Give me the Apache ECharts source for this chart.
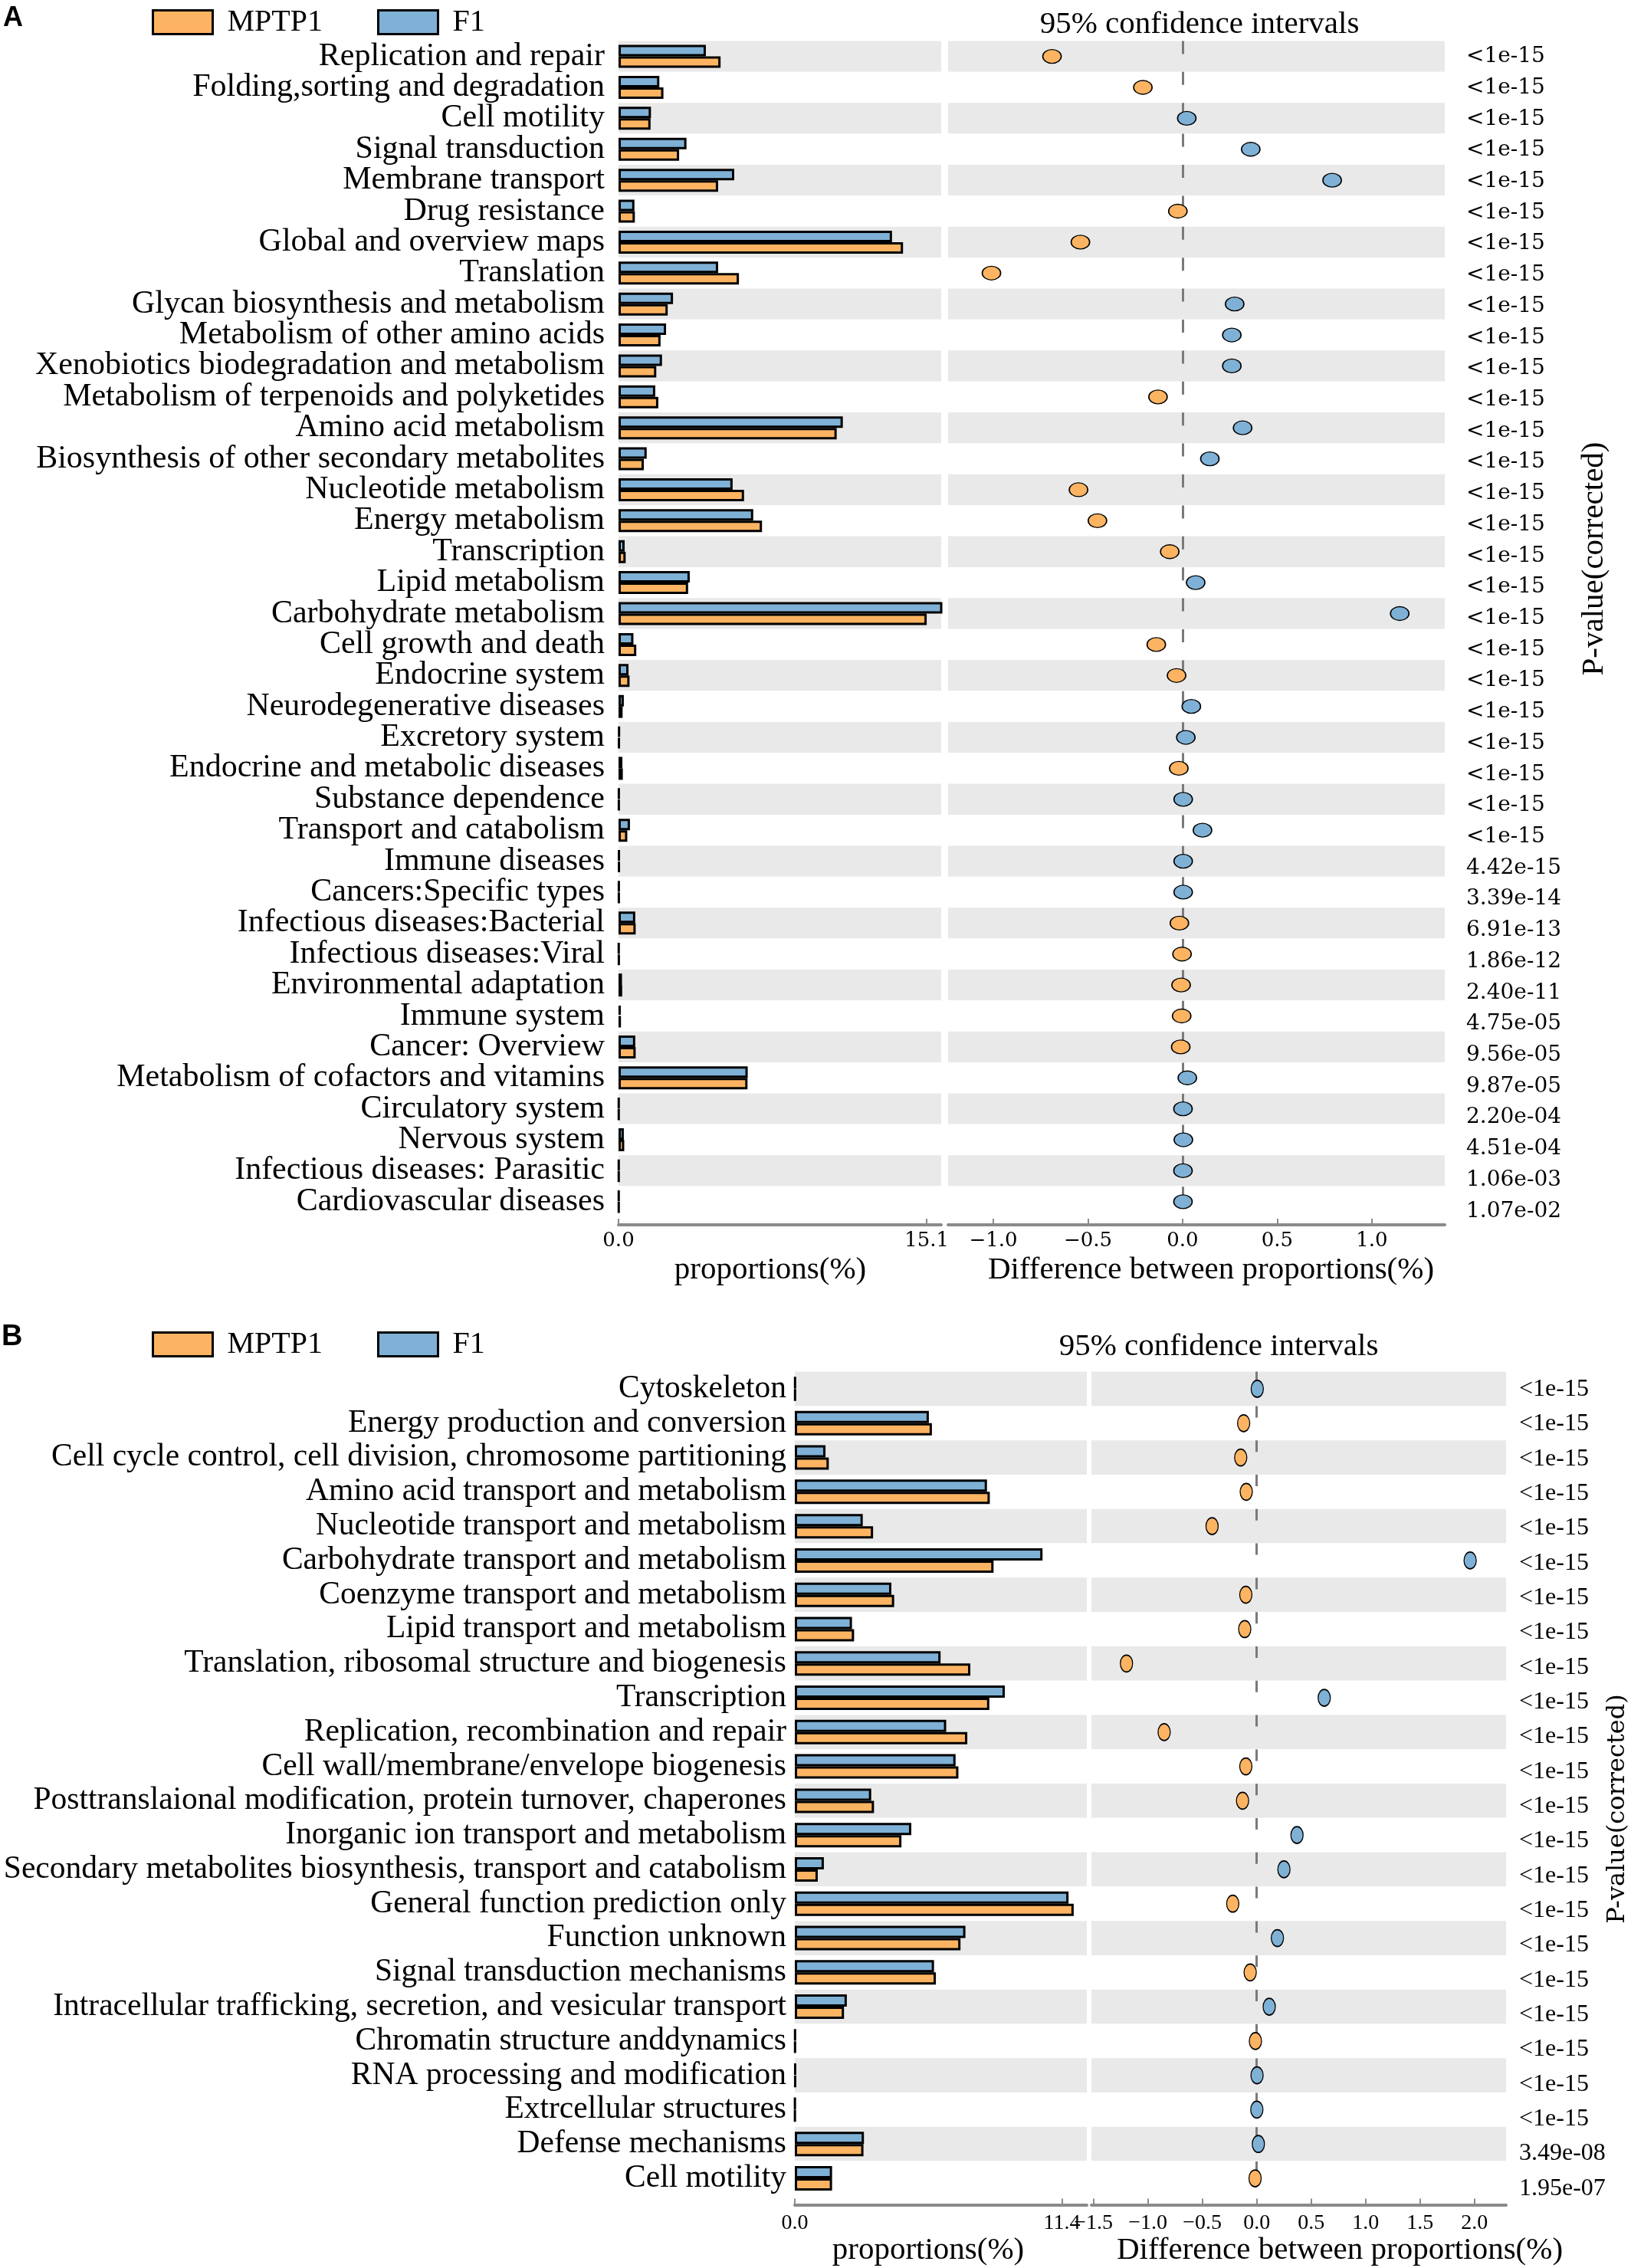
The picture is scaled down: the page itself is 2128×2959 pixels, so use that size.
<!DOCTYPE html>
<html><head><meta charset="utf-8">
<script src="https://cdn.jsdelivr.net/npm/echarts@6/dist/echarts.min.js"></script>
<style>html,body{margin:0;padding:0;background:#fff}#c{width:2128px;height:2959px}</style>
</head><body><div id="c"></div>
<script>
// ---------- Panel A data ----------
const catA = ["Replication and repair","Folding,sorting and degradation","Cell motility","Signal transduction","Membrane transport","Drug resistance","Global and overview maps","Translation","Glycan biosynthesis and metabolism","Metabolism of other amino acids","Xenobiotics biodegradation and metabolism","Metabolism of terpenoids and polyketides","Amino acid metabolism","Biosynthesis of other secondary metabolites","Nucleotide metabolism","Energy metabolism","Transcription","Lipid metabolism","Carbohydrate metabolism","Cell growth and death","Endocrine system","Neurodegenerative diseases","Excretory system","Endocrine and metabolic diseases","Substance dependence","Transport and catabolism","Immune diseases","Cancers:Specific types","Infectious diseases:Bacterial","Infectious diseases:Viral","Environmental adaptation","Immune system","Cancer: Overview","Metabolism of cofactors and vitamins","Circulatory system","Nervous system","Infectious diseases: Parasitic","Cardiovascular diseases"];
const f1A = [4.28,2.0,1.59,3.33,5.67,0.78,13.4,4.88,2.67,2.33,2.13,1.8,10.99,1.38,5.59,6.6,0.3,3.49,16.25,0.73,0.49,0.26,0.05,0.19,0.03,0.56,0.04,0.03,0.82,0.02,0.17,0.11,0.82,6.33,0.02,0.26,0.02,0.02];
const mptpA = [5.0,2.2,1.57,2.97,4.88,0.8,13.94,5.9,2.41,2.06,1.85,1.95,10.69,1.24,6.15,7.03,0.35,3.41,15.1,0.87,0.54,0.2,0.04,0.21,0.03,0.43,0.04,0.03,0.84,0.03,0.18,0.12,0.84,6.32,0.02,0.28,0.02,0.02];
const diffA = [-0.69,-0.21,0.022,0.36,0.79,-0.025,-0.54,-1.01,0.275,0.26,0.26,-0.13,0.317,0.144,-0.55,-0.45,-0.068,0.069,1.147,-0.139,-0.032,0.046,0.017,-0.02,0.003,0.105,0.003,0.003,-0.017,-0.003,-0.008,-0.005,-0.01,0.025,0.002,0.004,0.002,0.002];
const pA = ["<1e-15","<1e-15","<1e-15","<1e-15","<1e-15","<1e-15","<1e-15","<1e-15","<1e-15","<1e-15","<1e-15","<1e-15","<1e-15","<1e-15","<1e-15","<1e-15","<1e-15","<1e-15","<1e-15","<1e-15","<1e-15","<1e-15","<1e-15","<1e-15","<1e-15","<1e-15","4.42e-15","3.39e-14","6.91e-13","1.86e-12","2.40e-11","4.75e-05","9.56e-05","9.87e-05","2.20e-04","4.51e-04","1.06e-03","1.07e-02"];
const propTicksA = [0, 15.1];
const diffTicksA = [-1.0,-0.5,0.0,0.5,1.0];

// ---------- Panel B data ----------
const catB = ["Cytoskeleton","Energy production and conversion","Cell cycle control, cell division, chromosome partitioning","Amino acid transport and metabolism","Nucleotide transport and metabolism","Carbohydrate transport and metabolism","Coenzyme transport and metabolism","Lipid transport and metabolism","Translation, ribosomal structure and biogenesis","Transcription","Replication, recombination and repair","Cell wall/membrane/envelope biogenesis","Posttranslaional modification, protein turnover, chaperones","Inorganic ion transport and metabolism","Secondary metabolites biosynthesis, transport and catabolism","General function prediction only","Function unknown","Signal transduction mechanisms","Intracellular trafficking, secretion, and vesicular transport","Chromatin structure anddynamics","RNA processing and modification","Extrcellular structures","Defense mechanisms","Cell motility"];
const f1B = [0.02,5.72,1.31,8.2,2.9,10.57,4.12,2.44,6.22,8.96,6.46,6.86,3.26,4.97,1.24,11.68,7.28,5.94,2.22,0.02,0.03,0.01,2.95,1.59];
const mptpB = [0.02,5.85,1.45,8.32,3.34,8.48,4.24,2.53,7.49,8.3,7.36,6.98,3.38,4.55,0.98,11.9,7.07,6.02,2.1,0.02,0.03,0.01,2.93,1.59];
const diffB = [0.005,-0.12,-0.147,-0.096,-0.41,1.96,-0.1,-0.11,-1.196,0.62,-0.85,-0.1,-0.13,0.37,0.25,-0.22,0.19,-0.06,0.115,-0.012,0.003,0.001,0.015,-0.015];
const pB = ["<1e-15","<1e-15","<1e-15","<1e-15","<1e-15","<1e-15","<1e-15","<1e-15","<1e-15","<1e-15","<1e-15","<1e-15","<1e-15","<1e-15","<1e-15","<1e-15","<1e-15","<1e-15","<1e-15","<1e-15","<1e-15","<1e-15","3.49e-08","1.95e-07"];
const propTicksB = [0, 11.4];
const diffTicksB = [-1.5,-1.0,-0.5,0.0,0.5,1.0,1.5,2.0];

// ---------- styling ----------
const ORANGE = '#FDB462', BLUE = '#7FB1D6', BAND = '#E9E9E9', AXIS = '#8a8a8a';
const SERIF = "'Liberation Serif','Times New Roman',serif";
const DSERIF = "'DejaVu Serif',serif";
const fmt = v => (v < 0 ? '\u2212' : '') + Math.abs(v).toFixed(1);

function catAxis(grid, data, opts) {
  return Object.assign({
    type: 'category', gridIndex: grid, data: data, inverse: true,
    axisLine: {show: false}, axisTick: {show: false},
    axisLabel: {show: false},
    splitArea: {show: true, interval: 0, areaStyle: {color: [BAND, '#ffffff']}},
    splitLine: {show: false}
  }, opts || {});
}
function valAxis(grid, min, max, ticks, offset, lab, name, namePad, nameGap) {
  return {
    type: 'value', gridIndex: grid, min: min, max: max, offset: offset,
    axisLine: {show: true, lineStyle: {color: AXIS, width: 4}},
    axisTick: {show: true, inside: true, length: 8, lineStyle: {color: AXIS, width: 2}, customValues: ticks},
    axisLabel: Object.assign({customValues: ticks, formatter: fmt, color: '#000'}, lab),
    splitLine: {show: false},
    name: name, nameLocation: 'middle', nameGap: nameGap,
    nameTextStyle: {fontFamily: SERIF, fontSize: 41, color: '#000', padding: namePad}
  };
}
function hiddenX(grid) {
  return {type: 'value', gridIndex: grid, show: false, min: 0, max: 1};
}
function barSeries(name, color, xi, yi, data, w) {
  return {
    type: 'bar', name: name, xAxisIndex: xi, yAxisIndex: yi, data: data,
    barWidth: w, barGap: '0%', clip: true,
    itemStyle: {color: color, borderColor: '#000', borderWidth: 3},
    z: 2
  };
}
function dotSeries(xi, yi, diffs, cats, size, dash) {
  return {
    type: 'scatter', xAxisIndex: xi, yAxisIndex: yi, z: 4,
    symbol: 'circle', symbolSize: size,
    data: diffs.map((d, i) => ({value: [d, cats[i]], itemStyle: {color: d >= 0 ? BLUE : ORANGE}})),
    itemStyle: {borderColor: '#000', borderWidth: 1.5, opacity: 1},
    markLine: {
      silent: true, symbol: ['none', 'none'], z: 1, animation: false,
      label: {show: false},
      lineStyle: {color: '#7a7a7a', width: 3, type: dash},
      data: [{xAxis: 0}]
    }
  };
}

const legendCommon = {
  data: ['MPTP1', 'F1'], left: 193, itemWidth: 78, itemHeight: 31, itemGap: 71,
  icon: 'rect', selectedMode: false,
  textStyle: {fontFamily: SERIF, fontSize: 40, color: '#000', padding: [0, 0, 0, 14]},
  itemStyle: {borderColor: '#000', borderWidth: 3}
};

const catLabel = (margin, size) => ({show: true, interval: 0, margin: margin, fontFamily: SERIF, fontSize: size, color: '#000'});
const G = (o) => Object.assign({outerBoundsMode: 'none', containLabel: false}, o);

const option = {
  animation: false,
  backgroundColor: '#fff',
  legend: [
    Object.assign({}, legendCommon, {top: 4}),
    Object.assign({}, legendCommon, {top: 1729})
  ],
  grid: [
    G({left: 807, top: 53.4, width: 421, height: 1534.6}),
    G({left: 1237, top: 53.4, width: 648, height: 1534.6}),
    G({left: 1885, top: 53.6, width: 1, height: 1547}),
    G({left: 1037, top: 1789.6, width: 381, height: 1074.8}),
    G({left: 1424, top: 1789.6, width: 541, height: 1074.8}),
    G({left: 1965, top: 1789.8, width: 1, height: 1088})
  ],
  xAxis: [
    valAxis(0, 0, 15.81, propTicksA, 10, {fontFamily: DSERIF, fontSize: 26, margin: 8}, 'proportions(%)', [0, 25, 0, 0], 26),
    valAxis(1, -1.239, 1.385, diffTicksA, 10, {fontFamily: DSERIF, fontSize: 26, margin: 8}, 'Difference between proportions(%)', [0, 0, 0, 38], 26),
    hiddenX(2),
    valAxis(3, 0, 12.46, propTicksB, 12, {fontFamily: SERIF, fontSize: 28, margin: 10}, 'proportions(%)', [0, 33, 0, 0], 36),
    valAxis(4, -1.518, 2.29, diffTicksB, 12, {fontFamily: SERIF, fontSize: 28, margin: 10}, 'Difference between proportions(%)', [0, 0, 0, 107], 36),
    hiddenX(5)
  ],
  yAxis: [
    catAxis(0, catA, {axisLabel: catLabel(18, 42)}),
    catAxis(1, catA),
    catAxis(2, pA, {position: 'right', splitArea: {show: false}, axisLabel: {show: true, interval: 0, margin: 27, fontFamily: DSERIF, fontSize: 28, color: '#000'}}),
    catAxis(3, catB, {axisLabel: catLabel(11, 41.5)}),
    catAxis(4, catB),
    catAxis(5, pB, {position: 'right', splitArea: {show: false}, axisLabel: {show: true, interval: 0, margin: 16, fontFamily: SERIF, fontSize: 32, color: '#000'}})
  ],
  series: [
    barSeries('F1', BLUE, 0, 0, f1A, 15),
    barSeries('MPTP1', ORANGE, 0, 0, mptpA, 15),
    dotSeries(1, 1, diffA, catA, [24, 18], [17, 23.4]),
    barSeries('F1', BLUE, 3, 3, f1B, 16),
    barSeries('MPTP1', ORANGE, 3, 3, mptpB, 16),
    dotSeries(4, 4, diffB, catB, [16, 22], [15, 29.8])
  ],
  graphic: [
    {type: 'text', x: 4, y: 6, style: {text: 'A', font: "bold 36px 'Liberation Sans', Arial, sans-serif", fill: '#000'}},
    {type: 'text', x: 2, y: 1726, style: {text: 'B', font: "bold 38px 'Liberation Sans', Arial, sans-serif", fill: '#000'}},
    {type: 'text', x: 1565, y: 32, style: {text: '95% confidence intervals', font: "41px 'Liberation Serif', serif", fill: '#000', align: 'center', verticalAlign: 'middle'}},
    {type: 'text', x: 1590, y: 1757, style: {text: '95% confidence intervals', font: "41px 'Liberation Serif', serif", fill: '#000', align: 'center', verticalAlign: 'middle'}},
    {type: 'text', x: 2080, y: 729, rotation: Math.PI / 2, style: {text: 'P-value(corrected)', font: "41px 'Liberation Serif', serif", fill: '#000', align: 'center', verticalAlign: 'middle'}},
    {type: 'text', x: 2111, y: 2360, rotation: Math.PI / 2, style: {text: 'P-value(corrected)', font: "32px 'DejaVu Serif', serif", fill: '#000', align: 'center', verticalAlign: 'middle'}}
  ]
};
const chart = echarts.init(document.getElementById('c'));
chart.setOption(option);
</script>
</body></html>
